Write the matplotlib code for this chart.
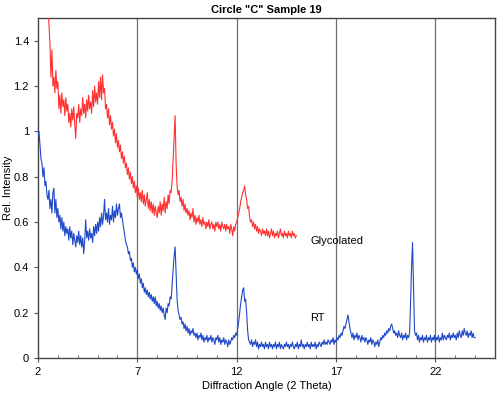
import numpy as np
import matplotlib.pyplot as plt
from matplotlib.ticker import MultipleLocator

plt.rcParams["font.family"] = ["Liberation Sans", "DejaVu Sans"]

# sampling grid of the scans (2 theta, degrees)
glyc_start = 2.5
rt_start = 2.0
step = 0.05

# Glycolated scan, relative intensity (one row = 0.5 degree)
glyc_values = [
    1.56, 1.47, 1.39, 1.24, 1.36, 1.20, 1.24, 1.17, 1.27, 1.19,
    1.22, 1.10, 1.16, 1.08, 1.17, 1.11, 1.14, 1.07, 1.15, 1.09,
    1.12, 1.04, 1.08, 1.02, 1.10, 1.05, 1.11, 1.03, 0.97, 1.08,
    1.06, 1.12, 1.04, 1.10, 1.07, 1.15, 1.08, 1.12, 1.06, 1.14,
    1.09, 1.16, 1.10, 1.13, 1.08, 1.18, 1.11, 1.20, 1.13, 1.17,
    1.12, 1.22, 1.15, 1.24, 1.14, 1.25, 1.17, 1.19, 1.10, 1.12,
    1.06, 1.10, 1.03, 1.07, 1.01, 1.04, 0.98, 1.01, 0.95, 0.99,
    0.93, 0.96, 0.91, 0.94, 0.88, 0.91, 0.86, 0.89, 0.84, 0.86,
    0.81, 0.84, 0.79, 0.82, 0.77, 0.80, 0.75, 0.78, 0.73, 0.76,
    0.71, 0.75, 0.70, 0.73, 0.69, 0.74, 0.68, 0.72, 0.67, 0.70,
    0.73, 0.66, 0.70, 0.65, 0.69, 0.64, 0.68, 0.63, 0.67, 0.64,
    0.62, 0.67, 0.64, 0.69, 0.63, 0.68, 0.65, 0.71, 0.64, 0.69,
    0.66, 0.72, 0.68, 0.74, 0.73, 0.78, 0.88, 0.97, 1.07, 0.86,
    0.76, 0.72, 0.74, 0.69, 0.71, 0.67, 0.70, 0.65, 0.68, 0.64,
    0.66, 0.63, 0.65, 0.61, 0.64, 0.62, 0.66, 0.60, 0.63, 0.59,
    0.62, 0.60, 0.63, 0.59, 0.61, 0.58, 0.62, 0.59, 0.60, 0.57,
    0.60, 0.58, 0.61, 0.57, 0.59, 0.60, 0.57, 0.59, 0.56, 0.60,
    0.58, 0.60, 0.57, 0.59, 0.56, 0.60, 0.58, 0.57, 0.59, 0.56,
    0.59, 0.57, 0.58, 0.55, 0.59, 0.57, 0.54, 0.58, 0.56, 0.59,
    0.60, 0.62, 0.64, 0.66, 0.69, 0.71, 0.73, 0.74, 0.76, 0.72,
    0.70, 0.66, 0.67, 0.62, 0.60, 0.61, 0.58, 0.60, 0.57, 0.59,
    0.56, 0.58, 0.55, 0.57, 0.56, 0.54, 0.57, 0.55, 0.56, 0.54,
    0.57, 0.54, 0.56, 0.53, 0.55, 0.57, 0.54, 0.56, 0.53, 0.55,
    0.54, 0.56, 0.53, 0.55, 0.57, 0.54, 0.55, 0.53, 0.56, 0.54,
    0.55, 0.53, 0.56, 0.54, 0.55, 0.53, 0.56, 0.54, 0.55, 0.53,
    0.54,
]

# room temperature (RT) scan, relative intensity (one row = 0.5 degree)
rt_values = [
    0.98, 1.00, 0.94, 0.88, 0.86, 0.80, 0.84, 0.76, 0.78, 0.72,
    0.70, 0.74, 0.66, 0.70, 0.64, 0.73, 0.75, 0.64, 0.70, 0.62,
    0.66, 0.60, 0.63, 0.57, 0.62, 0.56, 0.60, 0.54, 0.58, 0.55,
    0.57, 0.52, 0.58, 0.53, 0.56, 0.50, 0.55, 0.52, 0.49, 0.54,
    0.51, 0.56, 0.50, 0.54, 0.49, 0.53, 0.46, 0.52, 0.61, 0.53,
    0.56, 0.52, 0.57, 0.53, 0.55, 0.51, 0.58, 0.54, 0.59, 0.55,
    0.60, 0.56, 0.62, 0.58, 0.64, 0.59, 0.63, 0.70, 0.61, 0.64,
    0.60, 0.66, 0.59, 0.63, 0.61, 0.67, 0.60, 0.65, 0.62, 0.68,
    0.63, 0.66, 0.68, 0.62, 0.64, 0.61, 0.58, 0.55, 0.52, 0.50,
    0.49, 0.46, 0.47, 0.43, 0.44, 0.40, 0.42, 0.38, 0.40, 0.37,
    0.39, 0.35, 0.37, 0.33, 0.35, 0.31, 0.33, 0.29, 0.31, 0.28,
    0.30, 0.27, 0.29, 0.26, 0.28, 0.25, 0.27, 0.24, 0.27, 0.23,
    0.25, 0.22, 0.24, 0.21, 0.23, 0.20, 0.22, 0.19, 0.17, 0.22,
    0.20, 0.24, 0.23, 0.27, 0.26, 0.32, 0.39, 0.45, 0.49, 0.38,
    0.26, 0.21, 0.19, 0.17, 0.18, 0.15, 0.16, 0.13, 0.15, 0.12,
    0.14, 0.11, 0.13, 0.10, 0.12, 0.11, 0.13, 0.10, 0.11, 0.09,
    0.11, 0.08, 0.10, 0.09, 0.11, 0.08, 0.10, 0.07, 0.09, 0.08,
    0.10, 0.07, 0.09, 0.08, 0.10, 0.07, 0.09, 0.08, 0.06, 0.09,
    0.08, 0.10, 0.07, 0.09, 0.06, 0.08, 0.07, 0.09, 0.06, 0.08,
    0.07, 0.05, 0.08, 0.06, 0.07, 0.09, 0.08, 0.10, 0.09, 0.11,
    0.10, 0.13, 0.16, 0.20, 0.24, 0.27, 0.30, 0.31, 0.25, 0.26,
    0.20, 0.12, 0.08, 0.07, 0.06, 0.08, 0.05, 0.07, 0.06, 0.08,
    0.05, 0.07, 0.04, 0.06, 0.05, 0.07, 0.05, 0.06, 0.04, 0.07,
    0.05, 0.06, 0.04, 0.07, 0.05, 0.06, 0.04, 0.06, 0.05, 0.07,
    0.04, 0.06, 0.05, 0.07, 0.04, 0.06, 0.05, 0.04, 0.06, 0.05,
    0.07, 0.05, 0.06, 0.04, 0.06, 0.05, 0.07, 0.05, 0.04, 0.06,
    0.05, 0.07, 0.04, 0.06, 0.05, 0.08, 0.05, 0.06, 0.04, 0.06,
    0.05, 0.07, 0.05, 0.06, 0.04, 0.07, 0.05, 0.06, 0.05, 0.07,
    0.04, 0.06, 0.05, 0.07, 0.06, 0.05, 0.07, 0.06, 0.08, 0.06,
    0.07, 0.06, 0.08, 0.07, 0.06, 0.08, 0.07, 0.09, 0.06, 0.08,
    0.07, 0.09, 0.08, 0.10, 0.09, 0.11, 0.10, 0.12, 0.14, 0.13,
    0.15, 0.17, 0.19, 0.16, 0.13, 0.11, 0.09, 0.11, 0.08, 0.10,
    0.09, 0.11, 0.08, 0.10, 0.09, 0.07, 0.10, 0.08, 0.09, 0.07,
    0.09, 0.08, 0.06, 0.08, 0.07, 0.09, 0.06, 0.08, 0.07, 0.05,
    0.07, 0.06, 0.08, 0.05, 0.07, 0.09, 0.08, 0.10, 0.09, 0.11,
    0.10, 0.12, 0.11, 0.13, 0.12, 0.14, 0.15, 0.13, 0.11, 0.12,
    0.10, 0.11, 0.09, 0.12, 0.10, 0.09, 0.11, 0.08, 0.10, 0.09,
    0.11, 0.08, 0.10, 0.09, 0.11, 0.24, 0.40, 0.51, 0.31, 0.12,
    0.10, 0.11, 0.08, 0.10, 0.07, 0.09, 0.08, 0.10, 0.07, 0.09,
    0.08, 0.10, 0.07, 0.09, 0.08, 0.10, 0.07, 0.09, 0.08, 0.10,
    0.07, 0.09, 0.08, 0.10, 0.07, 0.09, 0.08, 0.11, 0.08, 0.10,
    0.09, 0.08, 0.10, 0.09, 0.11, 0.08, 0.10, 0.09, 0.11, 0.09,
    0.10, 0.08, 0.11, 0.09, 0.12, 0.10, 0.09, 0.12, 0.10, 0.13,
    0.11, 0.10, 0.12, 0.09, 0.11, 0.10, 0.12, 0.09, 0.11, 0.09,
    0.09,
]

x_ticks = [2, 7, 12, 17, 22]
y_ticks = [0, 0.2, 0.4, 0.6, 0.8, 1.0, 1.2, 1.4]
y_tick_labels = ["0", "0.2", "0.4", "0.6", "0.8", "1", "1.2", "1.4"]

glyc_x = glyc_start + step * np.arange(len(glyc_values))
rt_x = rt_start + step * np.arange(len(rt_values))

fig = plt.figure(figsize=(5.0, 3.96), dpi=100)
ax = fig.add_axes([0.076, 0.096, 0.914, 0.858])

# vertical grid lines
for xv in x_ticks[1:]:
    ax.axvline(xv, color="#6e6e6e", lw=0.9, zorder=1)

ax.plot(glyc_x, glyc_values, color="#ff3030", lw=0.8, zorder=3)
ax.plot(rt_x, rt_values, color="#1f48c8", lw=0.8, zorder=3)

ax.text(15.7, 0.515, "Glycolated", fontsize=8, va="center", ha="left")
ax.text(15.7, 0.178, "RT", fontsize=8, va="center", ha="left")

ax.set_xlim(2, 25)
ax.set_ylim(0, 1.5)
ax.set_xticks(x_ticks)
ax.xaxis.set_minor_locator(MultipleLocator(1))
ax.set_yticks(y_ticks)
ax.set_yticklabels(y_tick_labels)
ax.tick_params(axis="both", which="major", labelsize=8, length=3, width=0.8,
               direction="out", color="#555555")
ax.tick_params(axis="x", which="minor", length=2, width=0.6,
               direction="in", color="#555555")
for sp in ax.spines.values():
    sp.set_color("#444444")
    sp.set_linewidth(1.0)

ax.set_xlabel("Diffraction Angle (2 Theta)", fontsize=8, labelpad=3)
ax.set_ylabel("Rel. Intensity", fontsize=8)
ax.yaxis.set_label_coords(-0.055, 0.5)
ax.set_title('Circle "C" Sample 19', fontsize=8, fontweight="bold", pad=4)

fig.savefig("out.png", dpi=100)
